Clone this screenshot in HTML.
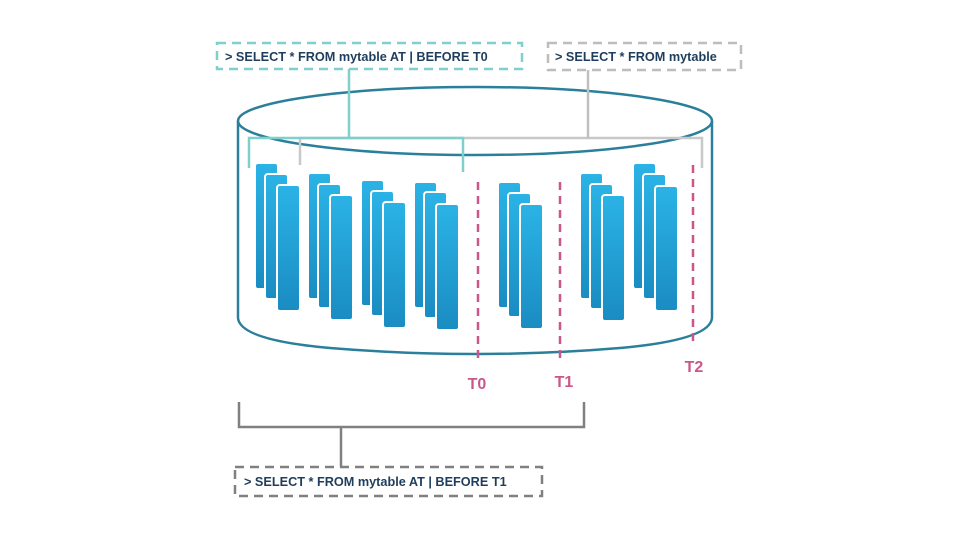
<!DOCTYPE html>
<html><head><meta charset="utf-8"><style>
html,body{margin:0;padding:0;background:#fff;}
svg{display:block;}
text{font-family:"Liberation Sans",Arial,sans-serif;font-weight:bold;}
</style></head><body>
<svg width="960" height="540" viewBox="0 0 960 540" xmlns="http://www.w3.org/2000/svg">
<defs>
<linearGradient id="g" x1="0" y1="0" x2="0" y2="1">
<stop offset="0" stop-color="#2bb3e6"/><stop offset="1" stop-color="#1a8cc2"/>
</linearGradient>
</defs>
<ellipse cx="475" cy="121" rx="237" ry="34" fill="none" stroke="#2a7f9a" stroke-width="2.5"/>
<path d="M238 121 L238 318 Q240 340 330 348 Q475 360 620 348 Q710 340 712 318 L712 121" fill="none" stroke="#2a7f9a" stroke-width="2.5"/>
<polyline points="300,165 300,138 702,138 702,168" fill="none" stroke="#c8c8c8" stroke-width="2.5"/>
<line x1="588" y1="70" x2="588" y2="138" stroke="#c0c0c0" stroke-width="2.5"/>
<polyline points="249,168 249,138 463,138 463,172" fill="none" stroke="#7fd0cc" stroke-width="2.5"/>
<line x1="349" y1="69" x2="349" y2="138" stroke="#7fd0cc" stroke-width="2.5"/>
<g fill="url(#g)" stroke="#fff" stroke-width="2">
<rect x="255" y="163" width="23" height="126" rx="3"/><rect x="265" y="174" width="23" height="125" rx="3"/><rect x="277" y="185" width="23" height="126" rx="3"/>
<rect x="308" y="173" width="23" height="126" rx="3"/><rect x="318" y="184" width="23" height="124" rx="3"/><rect x="330" y="195" width="23" height="125" rx="3"/>
<rect x="361" y="180" width="23" height="126" rx="3"/><rect x="371" y="191" width="23" height="125" rx="3"/><rect x="383" y="202" width="23" height="126" rx="3"/>
<rect x="414" y="182" width="23" height="126" rx="3"/><rect x="424" y="192" width="23" height="126" rx="3"/><rect x="436" y="204" width="23" height="126" rx="3"/>
<rect x="498" y="182" width="23" height="126" rx="3"/><rect x="508" y="193" width="23" height="124" rx="3"/><rect x="520" y="204" width="23" height="125" rx="3"/>
<rect x="580" y="173" width="23" height="126" rx="3"/><rect x="590" y="184" width="23" height="125" rx="3"/><rect x="602" y="195" width="23" height="126" rx="3"/>
<rect x="633" y="163" width="23" height="126" rx="3"/><rect x="643" y="174" width="23" height="125" rx="3"/><rect x="655" y="186" width="23" height="125" rx="3"/>
</g>
<g stroke="#c9578a" stroke-width="2.5" stroke-dasharray="8,6">
<line x1="478" y1="182" x2="478" y2="362"/>
<line x1="560" y1="182" x2="560" y2="362"/>
<line x1="693" y1="165" x2="693" y2="346"/>
</g>
<g fill="#c9578a" font-size="16" text-anchor="middle">
<text x="477" y="389">T0</text>
<text x="564" y="387">T1</text>
<text x="694" y="372">T2</text>
</g>
<polyline points="239,402 239,427 584,427 584,402" fill="none" stroke="#808080" stroke-width="2.5"/>
<line x1="341" y1="427" x2="341" y2="467" stroke="#808080" stroke-width="2.5"/>
<rect x="217" y="43" width="305" height="26" fill="#fff" stroke="#7fd0cc" stroke-width="2.5" stroke-dasharray="9,6"/>
<rect x="548" y="43" width="193" height="27" fill="#fff" stroke="#bdbdbd" stroke-width="2.5" stroke-dasharray="9,6"/>
<rect x="235" y="467" width="307" height="29" fill="#fff" stroke="#808080" stroke-width="2.5" stroke-dasharray="9,6"/>
<g fill="#1f3d5c" font-size="12.7">
<text x="225" y="61">&gt; SELECT * FROM mytable AT | BEFORE T0</text>
<text x="555" y="61">&gt; SELECT * FROM mytable</text>
<text x="244" y="486">&gt; SELECT * FROM mytable AT | BEFORE T1</text>
</g>
</svg>
</body></html>
